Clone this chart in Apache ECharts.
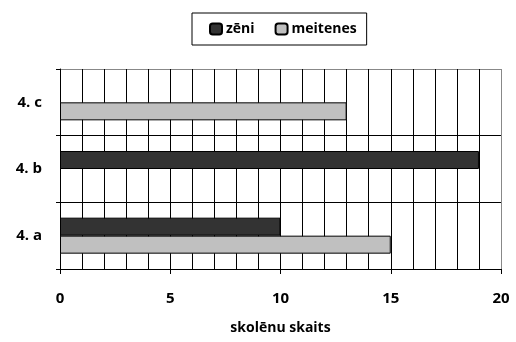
<!DOCTYPE html>
<html><head><meta charset="utf-8">
<script src="https://cdn.jsdelivr.net/npm/echarts@6/dist/echarts.min.js"></script>
<style>html,body{margin:0;padding:0;background:#fff}#c{width:516px;height:342px}</style>
</head><body><div id="c"></div>
<script>
const categories = ['4. a', '4. b', '4. c'];
const zeni = [10, 19, null];
const meitenes = [15, null, 13];
const xTicks = [0, 5, 10, 15, 20];

const FONT = 'Open Sans';
const chart = echarts.init(document.getElementById('c'), null, {renderer: 'canvas'});
const minorColors = [];
for (let i = 0; i < 20; i++) minorColors.push('#000');
minorColors.push('#888');
chart.setOption({
  animation: false,
  backgroundColor: '#fff',
  textStyle: {fontFamily: FONT},
  legend: {
    data: ['zēni', 'meitenes'],
    left: 192, top: 13, width: 181, height: 35,
    borderColor: '#000', borderWidth: 1,
    padding: [9, 10, 9, 17],
    itemWidth: 12, itemHeight: 11, itemGap: 20,
    textStyle: {fontFamily: FONT, fontWeight: 'bold', fontSize: 14, color: '#000', padding: [0, 0, 0, -1]}
  },
  grid: {left: 60, right: 15, top: 69, bottom: 73},
  xAxis: [{
    type: 'value', min: xTicks[0], max: xTicks[xTicks.length - 1], interval: 5,
    name: 'skolēnu skaits', nameLocation: 'middle', nameGap: 52,
    nameTextStyle: {fontFamily: FONT, fontWeight: 'bold', fontSize: 14, color: '#000'},
    axisLine: {show: true, lineStyle: {color: '#000', width: 1}},
    axisTick: {show: true, length: 5, lineStyle: {color: '#000'}},
    axisLabel: {margin: 22, fontFamily: FONT, fontWeight: 'bold', fontSize: 15, color: '#000'},
    splitLine: {show: false},
    z: 5
  }, {
    type: 'value', min: xTicks[0], max: xTicks[xTicks.length - 1], interval: 1,
    position: 'bottom',
    axisLine: {show: false}, axisTick: {show: false}, axisLabel: {show: false},
    splitLine: {show: true, lineStyle: {color: minorColors, width: 1}}
  }],
  yAxis: {
    type: 'category', data: categories,
    axisLine: {show: true, lineStyle: {color: '#000', width: 1}},
    axisTick: {show: true, length: 4, lineStyle: {color: '#000'}},
    axisLabel: {margin: 18, fontFamily: FONT, fontWeight: 'bold', fontSize: 15, color: '#000'},
    splitLine: {show: true, lineStyle: {color: ['#000', '#000', '#000', '#888'], width: 1}}
  },
  series: [
    {name: 'zēni', type: 'bar', data: zeni, barWidth: 18, barGap: '0%',
     itemStyle: {color: '#333333', borderColor: '#000', borderWidth: 1}},
    {name: 'meitenes', type: 'bar', data: meitenes, barWidth: 18, barGap: '0%',
     itemStyle: {color: '#c0c0c0', borderColor: '#000', borderWidth: 1}}
  ]
});
</script></body></html>
